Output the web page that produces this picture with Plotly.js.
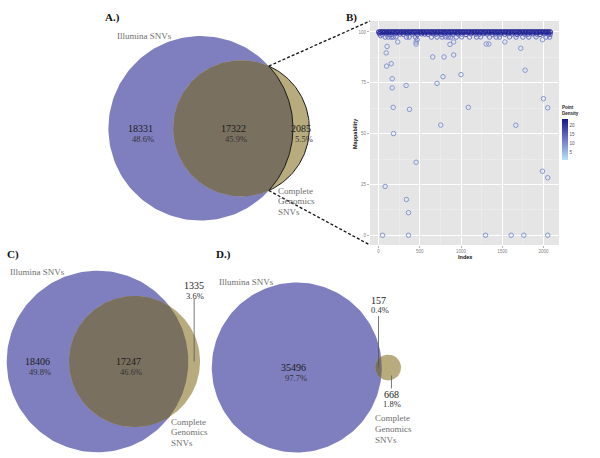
<!DOCTYPE html>
<html><head><meta charset="utf-8">
<script src="https://cdn.plot.ly/plotly-3.0.1.min.js"></script>
<style>html,body{margin:0;padding:0;background:#fff}#chart{width:600px;height:458px}</style>
</head><body><div id="chart"></div>
<script>
// ---------------- DATA ----------------
// Venn panels A, C, D
const vennLabels = ['A.)', 'C)', 'D.)'];
const illuminaOnly = [18331, 18406, 35496];
const sharedSNV = [17322, 17247, 157];
const cgOnly = [2085, 1335, 668];
const setNameIllumina = 'Illumina SNVs';
const setNameCG = ['Complete', 'Genomics', 'SNVs'];

// Panel B: mappability of the 2085 CG-only SNVs
const band100Idx = [3,21,40,58,77,96,115,133,152,171,190,208,227,246,265,283,302,321,340,358,377,396,415,433,452,471,490,508,527,546,565,583,602,621,640,658,677,696,715,733,752,771,790,808,827,846,865,883,902,921,940,958,977,996,1015,1033,1052,1071,1090,1108,1127,1146,1165,1183,1202,1221,1240,1258,1277,1296,1315,1333,1352,1371,1390,1408,1427,1446,1465,1483,1502,1521,1540,1558,1577,1596,1615,1633,1652,1671,1690,1708,1727,1746,1765,1783,1802,1821,1840,1858,1877,1896,1915,1933,1952,1971,1990,2008,2027,2046,2065,2083];
const band100Val = band100Idx.map(() => 100);
const band99Idx = [10,45,88,120,150,200,260,300,350,410,470,520,560,600,660,700,760,800,850,900,960,1010,1060,1120,1180,1220,1270,1320,1380,1420,1480,1530,1570,1620,1680,1720,1770,1810,1870,1920,1960,2010,2060,2080];
const band99Val = [99.2,98.9,99.1,99.0,98.8,99.1,99.0,98.9,99.2,99.0,98.8,99.1,99.0,98.9,99.1,99.0,98.8,99.2,99.0,98.9,99.1,99.0,98.8,99.1,99.0,98.9,99.2,99.0,98.8,99.1,99.0,98.9,99.1,99.0,98.8,99.2,99.0,98.9,99.1,99.0,98.8,99.1,99.0,98.9];
const nearIdx = [24,80,117,153,177,210,338,371,451,467,641,709,770,814,846,875,943,1008,1104,1189,1237,1346,1427,1467,1588,1669,1750,1822,1911,2032,2075];
const nearVal = [98.2,97.5,97.5,97.5,97.5,97.6,97.5,97.5,97.4,96.2,97.5,97.5,97.5,97.6,97.5,97.5,97.5,97.6,97.5,97.5,97.6,97.5,97.5,97.5,97.6,97.5,97.5,97.5,97.6,97.5,97.5];
const outIdx = [80,92,97,104,153,165,165,177,181,233,334,338,363,375,455,455,455,657,709,754,782,794,866,911,911,1000,1089,1306,1338,1532,1665,1725,1778,1988,1988,2000,2052,2052,48,363,1298,1609,1762,2052];
const outVal = [24.0,89.7,83.2,92.9,84.4,77.0,72.5,62.9,50.0,95.1,73.7,17.6,11.1,61.9,35.9,95.0,94.0,87.7,74.7,54.2,78.0,87.7,93.9,88.7,95.1,79.0,62.9,94.1,94.1,95.1,54.1,92.0,81.2,31.5,96.2,67.2,62.7,28.3,0,0,0,0,0,0];
const groupDensity = [22, 17, 12, 8.5];
const xTicks = [0, 500, 1000, 1500, 2000];
const yTicks = [0, 25, 50, 75, 100];
const cbTicks = [5, 10, 15, 20];

// ---------------- LAYOUT CONSTANTS (pixels) ----------------
const W = 600, H = 458;
const vennCx = [200.7, 97.5, 296.8];
const vennCy = [128.3, 361.5, 367.5];
const vennR1 = [92.3, 90.8, 85.0];
const labelMode = [['in','in','in'], ['in','in','above'], ['in','above','below']];
const callouts = {
  '1-2': {countY: 285, pctY: 295.5, l0: 298.5, l1: 'cy'},
  '2-1': {countY: 300, pctY: 309.5, l0: 316, l1: 'cy'},
  '2-2': {countY: 394.5, pctY: 404, l0: 'cy+8', l1: 388.5}
};
const letterPos = [[112, 17.5], [13, 254.5], [223, 254.5]];
const illPos = [[115, 35.5], [8, 272.3], [216.5, 282.3]];
const cgPos = [[275.5, 190.7], [169, 421.7], [372.5, 418.3]];
const bDomX = [370 / W, 559 / W];
const bDomY = [1 - 245 / H, 1 - 21 / H];

const PURPLE = '#7F7FBF', TAN = '#B8AC7E', OVER = '#7A705F';
const SERIF = 'Liberation Serif, DejaVu Serif, serif';
const SANS = 'Liberation Sans, Arial, sans-serif';

function arc(cx, cy, r, t0, t1, n) {
  const xs = [], ys = [];
  for (let i = 0; i <= n; i++) {
    const t = t0 + (t1 - t0) * i / n;
    xs.push(cx + r * Math.cos(t)); ys.push(cy + r * Math.sin(t));
  }
  return [xs, ys];
}
function lensArea(r1, r2, d) {
  if (d >= r1 + r2) return 0;
  if (d <= Math.abs(r1 - r2)) return Math.PI * Math.min(r1, r2) ** 2;
  const a = r1 * r1 * Math.acos((d * d + r1 * r1 - r2 * r2) / (2 * d * r1));
  const b = r2 * r2 * Math.acos((d * d + r2 * r2 - r1 * r1) / (2 * d * r2));
  const c = 0.5 * Math.sqrt((-d + r1 + r2) * (d + r1 - r2) * (d - r1 + r2) * (d + r1 + r2));
  return a + b - c;
}

const traces = [];
const annotations = [];
const ov = {xaxis: 'x2', yaxis: 'y2', hoverinfo: 'skip', showlegend: false};
let crescentPts = null;

for (let i = 0; i < 3; i++) {
  const tot1 = illuminaOnly[i] + sharedSNV[i];
  const tot2 = sharedSNV[i] + cgOnly[i];
  const all = tot1 + cgOnly[i];
  const cx = vennCx[i], cy = vennCy[i], r1 = vennR1[i];
  const k = r1 / Math.sqrt(tot1);
  const r2 = k * Math.sqrt(tot2);
  const target = sharedSNV[i] / tot1 * Math.PI * r1 * r1;
  let lo = Math.abs(r1 - r2) + 1e-6, hi = r1 + r2 - 1e-6;
  for (let it = 0; it < 80; it++) {
    const mid = (lo + hi) / 2;
    if (lensArea(r1, r2, mid) > target) lo = mid; else hi = mid;
  }
  const d = (lo + hi) / 2;
  const cx2 = cx + d;
  const a = (d * d + r1 * r1 - r2 * r2) / (2 * d);
  const h = Math.sqrt(Math.max(0, r1 * r1 - a * a));
  const th1 = Math.atan2(h, a);
  const th2 = Math.atan2(h, a - d);

  let [px, py] = arc(cx, cy, r1, 0, 2 * Math.PI, 180);
  traces.push(Object.assign({x: px, y: py, mode: 'lines', fill: 'toself', fillcolor: PURPLE, line: {width: 0}}, ov));
  [px, py] = arc(cx2, cy, r2, 0, 2 * Math.PI, 180);
  traces.push(Object.assign({x: px, y: py, mode: 'lines', fill: 'toself', fillcolor: TAN, line: {width: 0}}, ov));
  const [ax1, ay1] = arc(cx, cy, r1, -th1, th1, 80);
  const [ax2, ay2] = arc(cx2, cy, r2, th2, 2 * Math.PI - th2, 120);
  traces.push(Object.assign({x: ax1.concat(ax2), y: ay1.concat(ay2), mode: 'lines', fill: 'toself', fillcolor: OVER, line: {width: 0}}, ov));

  if (i === 0) {
    const [ox, oy] = arc(cx2, cy, r2, -th2, th2, 80);
    traces.push(Object.assign({x: ox, y: oy, mode: 'lines', line: {color: '#1a1a1a', width: 1}}, ov));
    traces.push(Object.assign({x: ax1, y: ay1, mode: 'lines', line: {color: '#1a1a1a', width: 1}}, ov));
    crescentPts = [[cx + a, cy - h], [cx + a, cy + h]];
  }

  const counts = [illuminaOnly[i], sharedSNV[i], cgOnly[i]];
  const xs = [(cx - r1 + cx2 - r2) / 2, (cx2 - r2 + cx + r1) / 2, (cx + r1 + cx2 + r2) / 2];
  for (let j = 0; j < 3; j++) {
    const pct = (100 * counts[j] / all).toFixed(1) + '%';
    let cY, pY, pX = xs[j] + 2.5;
    if (labelMode[i][j] === 'in') { cY = cy; pY = cy + 10.5; }
    else {
      const c = callouts[i + '-' + j];
      cY = c.countY; pY = c.pctY; pX = xs[j] + 1;
      const ev = v => v === 'cy' ? cy : (v === 'cy+8' ? cy + 8 : v);
      traces.push(Object.assign({x: [xs[j], xs[j]], y: [ev(c.l0), ev(c.l1)], mode: 'lines', line: {color: '#555', width: 0.8}}, ov));
    }
    annotations.push({xref: 'x2', yref: 'y2', x: xs[j], y: cY, text: String(counts[j]), showarrow: false, xanchor: 'center', yanchor: 'middle', font: {family: SERIF, size: 10, color: '#1a1a1a'}});
    annotations.push({xref: 'x2', yref: 'y2', x: pX, y: pY, text: pct, showarrow: false, xanchor: 'center', yanchor: 'middle', font: {family: SERIF, size: 8.5, color: '#333'}});
  }
  annotations.push({xref: 'x2', yref: 'y2', x: letterPos[i][0], y: letterPos[i][1], text: '<b>' + vennLabels[i] + '</b>', showarrow: false, xanchor: 'center', yanchor: 'middle', font: {family: SERIF, size: 11, color: '#111'}});
  annotations.push({xref: 'x2', yref: 'y2', x: illPos[i][0], y: illPos[i][1], text: setNameIllumina, showarrow: false, xanchor: 'left', yanchor: 'middle', font: {family: SERIF, size: 9, color: '#6e6e6e'}});
  setNameCG.forEach((t, n) => {
    annotations.push({xref: 'x2', yref: 'y2', x: cgPos[i][0], y: cgPos[i][1] + n * 10.7, text: t, showarrow: false, xanchor: 'left', yanchor: 'middle', font: {family: SERIF, size: 9, color: '#6e6e6e'}});
  });
}

// dashed zoom lines from crescent tips to panel B corners
const cornerTop = [bDomX[0] * W, (1 - bDomY[1]) * H];
const cornerBot = [bDomX[0] * W, (1 - bDomY[0]) * H];
traces.push(Object.assign({x: [crescentPts[0][0], cornerTop[0]], y: [crescentPts[0][1], cornerTop[1]], mode: 'lines', line: {color: '#111', width: 1.3, dash: '3px,2px'}}, ov));
traces.push(Object.assign({x: [crescentPts[1][0], cornerBot[0]], y: [crescentPts[1][1], cornerBot[1]], mode: 'lines', line: {color: '#111', width: 1.3, dash: '3px,2px'}}, ov));

// Panel B scatter
const groups = [[band99Idx, band99Val], [nearIdx, nearVal], [outIdx, outVal], [band100Idx, band100Val]];
const gDens = [groupDensity[1], groupDensity[2], groupDensity[3], groupDensity[0]];
groups.forEach((g, gi) => {
  traces.push({x: g[0], y: g[1], xaxis: 'x', yaxis: 'y', type: 'scatter', mode: 'markers', showlegend: false, hoverinfo: 'x+y',
    marker: {symbol: 'circle-open', size: 4.5, line: {width: 1}, color: g[0].map(() => gDens[gi]), coloraxis: 'coloraxis'}});
});

annotations.push({xref: 'paper', yref: 'paper', x: 351 / W, y: 1 - 17 / H, text: '<b>B)</b>', showarrow: false, xanchor: 'center', yanchor: 'middle', font: {family: SERIF, size: 11, color: '#111'}});
annotations.push({xref: 'paper', yref: 'paper', x: 355 / W, y: 1 - 134 / H, text: '<b>Mappability</b>', textangle: -90, showarrow: false, xanchor: 'center', yanchor: 'middle', font: {family: SANS, size: 5.5, color: '#111'}});
annotations.push({xref: 'paper', yref: 'paper', x: 465 / W, y: 1 - 256.5 / H, text: '<b>Index</b>', showarrow: false, xanchor: 'center', yanchor: 'middle', font: {family: SANS, size: 5.5, color: '#111'}});

const layout = {
  width: W, height: H,
  margin: {l: 0, r: 0, t: 0, b: 0, pad: 0},
  paper_bgcolor: '#fff', plot_bgcolor: 'rgba(0,0,0,0)',
  showlegend: false,
  xaxis: {domain: bDomX, range: [-104, 2189], tickvals: xTicks, ticktext: xTicks.map(String), showgrid: true, gridcolor: '#fff', gridwidth: 1,
    minor: {dtick: 250, tick0: 0, showgrid: true, gridcolor: '#F2F2F2', gridwidth: 0.5}, zeroline: false, showline: false,
    ticks: 'outside', ticklen: 2, tickwidth: 0.6, tickcolor: '#7F7F7F', tickfont: {family: SANS, size: 4.5, color: '#7F7F7F'}, fixedrange: true},
  yaxis: {domain: bDomY, range: [-4.8, 105.4], tickvals: yTicks, ticktext: yTicks.map(String), showgrid: true, gridcolor: '#fff', gridwidth: 1,
    minor: {dtick: 12.5, tick0: 0, showgrid: true, gridcolor: '#F2F2F2', gridwidth: 0.5}, zeroline: false, showline: false,
    ticks: 'outside', ticklen: 2, tickwidth: 0.6, tickcolor: '#7F7F7F', tickfont: {family: SANS, size: 4.5, color: '#7F7F7F'}, fixedrange: true},
  xaxis2: {domain: [0, 1], range: [0, W], visible: false, fixedrange: true},
  yaxis2: {domain: [0, 1], range: [H, 0], visible: false, fixedrange: true},
  coloraxis: {cmin: 0.5, cmax: 23.5,
    colorscale: [[0, '#B8E2EE'], [0.25, '#93ACDE'], [0.5, '#6F78C8'], [0.75, '#4347AE'], [1, '#15158A']],
    colorbar: {x: 562 / W, xanchor: 'left', y: 1 - 131.5 / H, yanchor: 'middle', len: 57 / H, lenmode: 'fraction', thickness: 6, thicknessmode: 'pixels',
      outlinewidth: 0, xpad: 0, ypad: 0, tickvals: cbTicks, ticks: '', ticklabelpadding: 3, tickfont: {family: SANS, size: 4.5, color: '#555'},
      title: {text: '<b>Point<br>Density</b>', side: 'top', font: {family: SANS, size: 4.5, color: '#222'}}}},
  shapes: [{type: 'rect', xref: 'x domain', yref: 'y domain', x0: 0, x1: 1, y0: 0, y1: 1, fillcolor: '#E5E5E5', line: {width: 0}, layer: 'below'}],
  annotations: annotations
};

Plotly.newPlot('chart', traces, layout, {displayModeBar: false, staticPlot: true});
</script>
</body></html>
